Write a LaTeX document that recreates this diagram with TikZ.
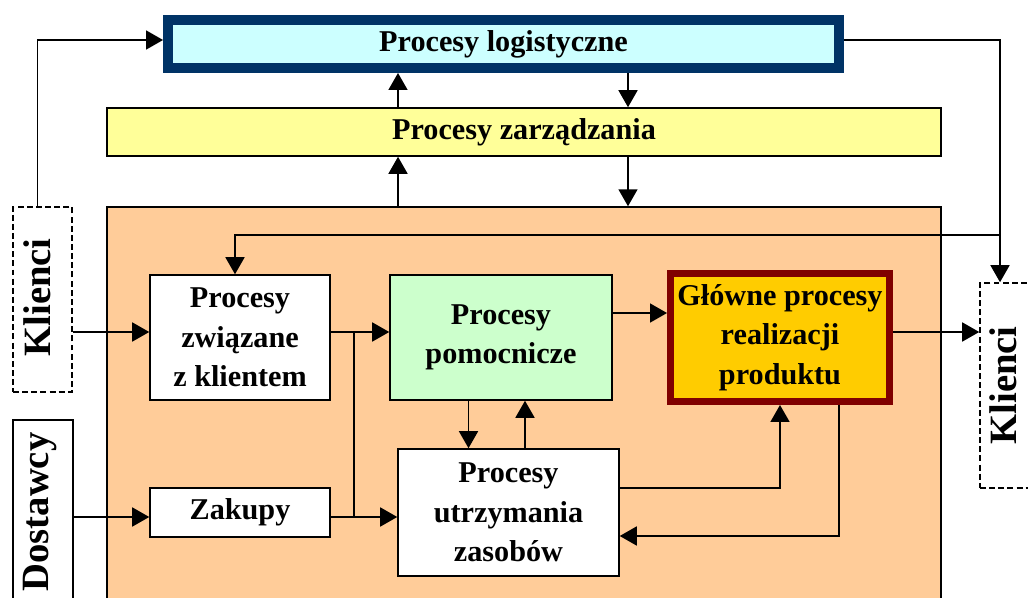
\documentclass[tikz,border=0pt]{standalone}
\usepackage{fontspec}
\setmainfont{Liberation Serif}
\usetikzlibrary{arrows.meta}

\definecolor{logiblue}{HTML}{003366}
\definecolor{logifill}{HTML}{CCFFFF}
\definecolor{zarzfill}{HTML}{FFFF99}
\definecolor{operfill}{HTML}{FFCC99}
\definecolor{pomocfill}{HTML}{CCFFCC}
\definecolor{glownefill}{HTML}{FFCC00}
\definecolor{glowneborder}{HTML}{800000}

\tikzstyle{block} = [rectangle, draw, line width=0.9pt, fill=white, inner sep=0pt, align=center, font=\fontsize{17.2}{22.5}\selectfont\bfseries]
\tikzstyle{side} = [rectangle, draw, line width=0.9pt, fill=white, inner sep=0pt]
\tikzstyle{vtext} = [rotate=90, inner sep=0pt, font=\fontsize{22}{26}\selectfont\bfseries]
\tikzstyle{arr} = [line width=0.9pt, -{Triangle[length=0.34cm,width=0.38cm]}]

\begin{document}
\begin{tikzpicture}[x=0.02cm, y=-0.02cm]
        \tikzset{dashbox/.style={dash pattern=on 3.4pt off 1.8pt}}
        \useasboundingbox (0,0) rectangle (1028,598);
        \clip (0,0) rectangle (1028,598);
        % Top levels
        \node (logi) at (503.5,44) [block, draw=logiblue, fill=logifill, line width=0.2cm,
            minimum width=13.42cm, minimum height=0.96cm] {Procesy logistyczne};
        \node (zarz) at (524,132) [block, fill=zarzfill, minimum width=16.68cm, minimum height=0.96cm] {Procesy zarządzania};
        \node (oper) at (524,428.5) [block, fill=operfill, minimum width=16.68cm, minimum height=8.86cm] {};
        % Inner processes
        \node (zwiazane) at (240,337.5) [block, minimum width=3.6cm, minimum height=2.5cm] {Procesy\\związane\\z klientem};
        \node (pomoc) at (501,337.5) [block, fill=pomocfill, minimum width=4.44cm, minimum height=2.5cm] {Procesy\\pomocnicze};
        \node (glowne) at (780,337.5) [block, draw=glowneborder, fill=glownefill, line width=0.14cm,
            minimum width=4.38cm, minimum height=2.56cm] {Główne procesy\\realizacji\\produktu};
        \node (utrz) at (508.5,512.5) [block, minimum width=4.42cm, minimum height=2.54cm] {Procesy\\utrzymania\\zasobów};
        \node (zakupy) at (240,512.5) [block, minimum width=3.6cm, minimum height=0.98cm] {Zakupy};
        % Outside parties
        \node (klL) at (42.5,299.5) [side, dashbox, minimum width=1.18cm, minimum height=3.7cm,
            label={[vtext, yshift=0.1cm, xshift=0.04cm]center:Klienci}] {};
        \node (dost) at (43,512) [side, minimum width=1.2cm, minimum height=3.68cm,
            label={[vtext, yshift=0.06cm]center:Dostawcy}] {};
        \node (klR) at (1025,385.5) [side, dashbox, minimum width=1.8cm, minimum height=4.1cm,
            label={[vtext, yshift=0.44cm]center:Klienci}] {};

        \coordinate (up) at (398,0);
        \coordinate (dn) at (628,0);
        \coordinate (rowk) at (0,332);
        \coordinate (rowz) at (0,517);
        \coordinate (jn) at (354,0);
        \coordinate (fb) at (1000,235);

        \draw[arr] (oper.north -| up) -- (zarz.south -| up);
        \draw[arr] (zarz.north -| up) -- (logi.south -| up);
        \draw[arr] (logi.south -| dn) -- (zarz.north -| dn);
        \draw[arr] (zarz.south -| dn) -- (oper.north -| dn);
        \draw[arr] ([xshift=-0.1cm]klL.north) |- ([yshift=0.08cm]logi.west);
        \draw[arr] ([yshift=0.08cm]logi.east) -| ([xshift=-0.5cm]klR.north);
        \draw[arr] (fb) -| ([xshift=-0.1cm]zwiazane.north);

        \draw[arr] (klL.east |- rowk) -- (zwiazane.west |- rowk);
        \draw[arr] (zwiazane.east |- rowk) -- (pomoc.west |- rowk);
        \draw[arr] (dost.east |- rowz) -- (zakupy.west |- rowz);
        \draw[arr] (zakupy.east |- rowz) -- (utrz.west |- rowz);
        \draw[line width=0.9pt] (jn |- rowk) -- (jn |- rowz);
        \draw[arr] ([xshift=-0.65cm]pomoc.south) -- ([xshift=-0.65cm]pomoc.south |- utrz.north);
        \draw[arr] ([xshift=0.33cm]utrz.north) -- ([xshift=0.33cm]utrz.north |- pomoc.south);
        \draw[arr] ([yshift=0.49cm]pomoc.east) -- ([yshift=0.49cm]pomoc.east -| glowne.west);
        \draw[arr] (glowne.east |- rowk) -- (klR.west |- rowk);
        \draw[arr] ([yshift=0.49cm]utrz.east) -| (glowne.south);
        \draw[arr] ([xshift=1.18cm]glowne.south) |- ([yshift=-0.47cm]utrz.east);
\end{tikzpicture}
\end{document}
